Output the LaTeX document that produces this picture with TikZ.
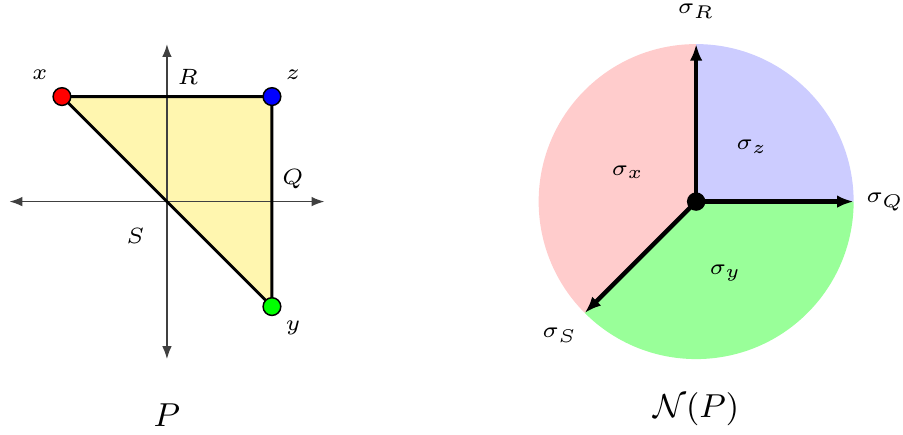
\documentclass[tikz,border=0pt]{standalone}
\usetikzlibrary{positioning, arrows.meta}
\usepackage{amsmath,amssymb}

\definecolor{polyfill}{RGB}{255,246,175}
\definecolor{fanx}{RGB}{255,204,204}
\definecolor{fany}{RGB}{153,255,153}
\definecolor{fanz}{RGB}{204,204,255}

\tikzset{
  vertex/.style={circle, draw=black, thin, inner sep=0pt, minimum size=4.8pt},
  lbl/.style={font=\fontsize{6.3}{7.5}\selectfont},
  caption/.style={font=\small},
  axis/.style={draw=black!75, thin, {Latex[length=3.5pt,width=2.6pt]}-{Latex[length=3.5pt,width=2.6pt]}},
  ray/.style={very thick, -{Latex[length=4.5pt,width=3.4pt]}},
}

\begin{document}
\begin{tikzpicture}
\useasboundingbox (-1.59,-2.22) rectangle (7.01,1.92);

% the polygon P
\coordinate (o) at (0,0);
\coordinate (xl) at (-1.5,0);
\coordinate (xr) at (1.5,0);
\coordinate (yb) at (0,-1.5);
\coordinate (yt) at (0,1.5);
\coordinate (px) at (-1,1);
\coordinate (pz) at (1,1);
\coordinate (py) at (1,-1);
\fill [polyfill] (px) -- (pz) -- (py) -- cycle;
\draw [axis] (xl) -- (xr);
\draw [axis] (yb) -- (yt);
\draw [thick] (px) -- (pz) -- (py) -- cycle;
\node [vertex, fill=red] (x) at (px) {};
\node [vertex, fill=blue] (z) at (pz) {};
\node [vertex, fill=green] (y) at (py) {};
\node [lbl] (lx) at (-1.21,1.21) {$x$};
\node [lbl] (lz) at (1.2,1.21) {$z$};
\node [lbl] (ly) at (1.2,-1.2) {$y$};
\node [lbl] (lR) at (0.2,1.19) {$R$};
\node [lbl] (lQ) at (1.2,0.21) {$Q$};
\node [lbl] (lS) at (-0.3,-0.33) {$S$};
\node [caption] (capP) at (0,-2.03) {$P$};

% the normal fan
\begin{scope}[shift={(5.04,0)}]
\coordinate (c) at (0,0);
\coordinate (eR) at (90:1.5);
\coordinate (eQ) at (0:1.5);
\coordinate (eS) at (225:1.5);
\fill [fanz] (c) -- (eQ) arc (0:90:1.5) -- cycle;
\fill [fanx] (c) -- (eR) arc (90:225:1.5) -- cycle;
\fill [fany] (c) -- (eS) arc (225:360:1.5) -- cycle;
\draw [ray] (c) -- (eR);
\draw [ray] (c) -- (eQ);
\draw [ray] (c) -- (eS);
\node [vertex, fill=black, draw=none, minimum size=5pt] (origin) at (c) {};
\node [lbl] (sR) at (0,1.81) {$\sigma_R$};
\node [lbl] (sQ) at (1.8,0) {$\sigma_Q$};
\node [lbl] (sS) at (-1.3,-1.27) {$\sigma_S$};
\node [lbl] (sz) at (0.53,0.52) {$\sigma_z$};
\node [lbl] (sx) at (-0.65,0.28) {$\sigma_x$};
\node [lbl] (sy) at (0.28,-0.68) {$\sigma_y$};
\node [caption] (capN) at (0,-1.98) {$\mathcal{N}(P)$};
\end{scope}
\end{tikzpicture}
\end{document}
